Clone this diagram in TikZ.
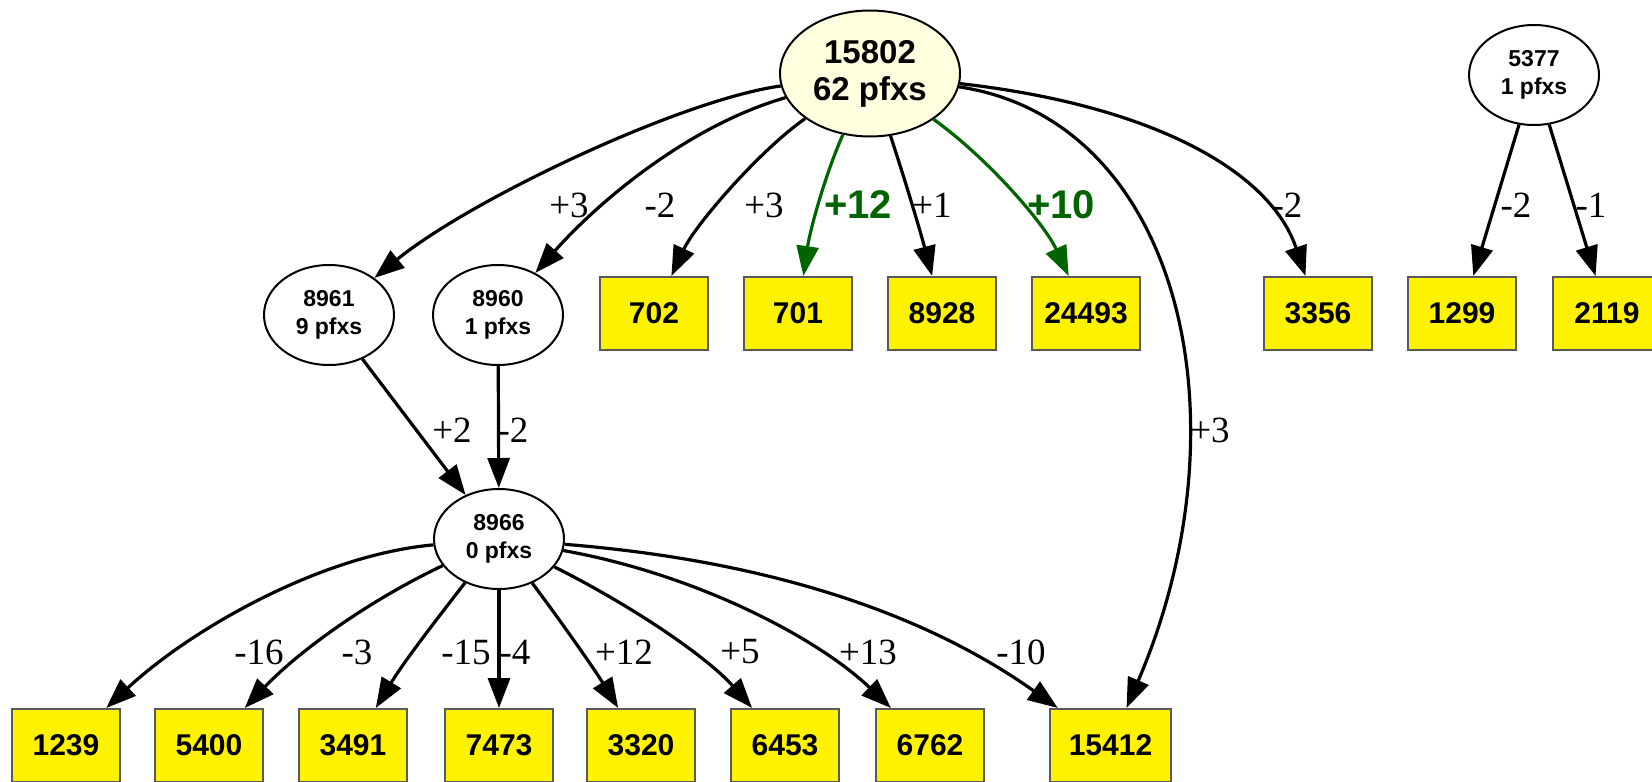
\documentclass[tikz,border=0pt]{standalone}
\usepackage{fontspec}
\setmainfont{Liberation Serif}
\setsansfont{Liberation Sans}
\usetikzlibrary{shapes.geometric, arrows.meta}

\definecolor{asnfill}{RGB}{255,255,224}
\definecolor{gaingreen}{RGB}{0,100,0}

\begin{document}
\begin{tikzpicture}[
		x=0.5pt, y=-0.5pt,
		% Style for the AS ellipses
		asn/.style={
			ellipse, draw, line width=1pt, fill=white, inner sep=0pt,
			minimum width=65pt, minimum height=50pt, align=center,
			font=\sffamily\bfseries\fontsize{11.5}{14}\selectfont
		},
		asn-main/.style={asn, fill=asnfill, minimum width=90pt, minimum height=63pt,
			font=\sffamily\bfseries\fontsize{16.5}{18.5}\selectfont},
		% Style for the prefix boxes
		pfx/.style={
			rectangle, draw=black!65, line width=1pt, fill=yellow, inner sep=0pt,
			minimum width=54pt, minimum height=36.5pt,
			font=\sffamily\bfseries\fontsize{15}{17}\selectfont
		},
		% Connectors & their labels
		link/.style={line width=1.6pt, -{Triangle[length=15pt, width=11pt]}},
		link-gain/.style={link, draw=gaingreen},
		delta lbl/.style={inner sep=0pt, font=\fontsize{18.5}{20}\selectfont},
		gain lbl/.style={inner sep=0pt, text=gaingreen, font=\sffamily\bfseries\fontsize{20}{22}\selectfont}
		]
		\useasboundingbox (0,0) rectangle (1652,781);

		% ASes
		\node[asn-main] (n15802) at (870, 73.5) {15802\\62 pfxs};
		\node[asn] (n5377) at (1534, 75) {5377\\1 pfxs};
		\node[asn] (n8961) at (329, 315) {8961\\9 pfxs};
		\node[asn] (n8960) at (498, 315) {8960\\1 pfxs};
		\node[asn] (n8966) at (499, 539) {8966\\0 pfxs};

		% Prefix boxes, upper row
		\node[pfx] (n702) at (654, 313.5) {702};
		\node[pfx] (n701) at (798, 313.5) {701};
		\node[pfx] (n8928) at (942, 313.5) {8928};
		\node[pfx] (n24493) at (1086, 313.5) {24493};
		\node[pfx] (n3356) at (1318, 313.5) {3356};
		\node[pfx] (n1299) at (1462, 313.5) {1299};
		\node[pfx] (n2119) at (1607, 313.5) {2119};

		% Prefix boxes, lower row
		\node[pfx] (n1239) at (66, 745.5) {1239};
		\node[pfx] (n5400) at (209, 745.5) {5400};
		\node[pfx] (n3491) at (353, 745.5) {3491};
		\node[pfx] (n7473) at (499, 745.5) {7473};
		\node[pfx] (n3320) at (641, 745.5) {3320};
		\node[pfx] (n6453) at (785, 745.5) {6453};
		\node[pfx] (n6762) at (930, 745.5) {6762};
		\node[pfx, minimum width=60.5pt] (n15412) at (1110.5, 745.5) {15412};

		% From 15802
		\draw[link] (n15802) .. controls (680,100) and (470,200) .. (n8961);
		\draw[link] (n15802) .. controls (690,125) and (600,200) .. (n8960);
		\draw[link] (n15802) .. controls (760,150) and (695,225) .. (n702);
		\draw[link-gain] (n15802) .. controls (825,175) and (810,230) .. (n701);
		\draw[link] (n15802) .. controls (905,180) and (920,230) .. (n8928);
		\draw[link-gain] (n15802) .. controls (990,160) and (1045,225) .. (n24493);
		\draw[link] (n15802) .. controls (1150,105) and (1270,170) .. (n3356);
		\draw[link] (n15802) .. controls (1180,120) and (1250,420) .. (n15412);

		% From 5377
		\draw[link] (n5377) -- (n1299);
		\draw[link] (n5377) -- (n2119);

		% Into 8966
		\draw[link] (n8961) -- (n8966);
		\draw[link] (n8960) -- (n8966);

		% From 8966
		\draw[link] (n8966) .. controls (320,555) and (190,630) .. (n1239);
		\draw[link] (n8966) .. controls (370,600) and (300,650) .. (n5400);
		\draw[link] (n8966) .. controls (440,615) and (405,660) .. (n3491);
		\draw[link] (n8966) -- (n7473);
		\draw[link] (n8966) .. controls (560,620) and (595,670) .. (n3320);
		\draw[link] (n8966) .. controls (640,610) and (710,660) .. (n6453);
		\draw[link] (n8966) .. controls (700,575) and (820,640) .. (n6762);
		\draw[link] (n8966) .. controls (760,560) and (920,610) .. (n15412);

		% Labels
		\node[delta lbl] (l8961) at (569, 205) {+3};
		\node[delta lbl] (l8960) at (660, 205) {-2};
		\node[delta lbl] (l702) at (764, 205) {+3};
		\node[gain lbl] (l701) at (858, 205) {+12};
		\node[delta lbl] (l8928) at (932, 205) {+1};
		\node[gain lbl] (l24493) at (1061, 205) {+10};
		\node[delta lbl] (l3356) at (1287, 205) {-2};
		\node[delta lbl] (l15412a) at (1210, 430) {+3};
		\node[delta lbl] (l1299) at (1516, 205) {-2};
		\node[delta lbl] (l2119) at (1591, 205) {-1};
		\node[delta lbl] (l8966a) at (452, 430) {+2};
		\node[delta lbl] (l8966b) at (513, 430) {-2};
		\node[delta lbl] (l1239) at (259, 652) {-16};
		\node[delta lbl] (l5400) at (357, 652) {-3};
		\node[delta lbl] (l3491) at (466, 652) {-15};
		\node[delta lbl] (l7473) at (515, 652) {-4};
		\node[delta lbl] (l3320) at (624, 652) {+12};
		\node[delta lbl] (l6453) at (740, 652) {+5};
		\node[delta lbl] (l6762) at (868, 652) {+13};
		\node[delta lbl] (l15412b) at (1021, 652) {-10};
	\end{tikzpicture}
\end{document}
